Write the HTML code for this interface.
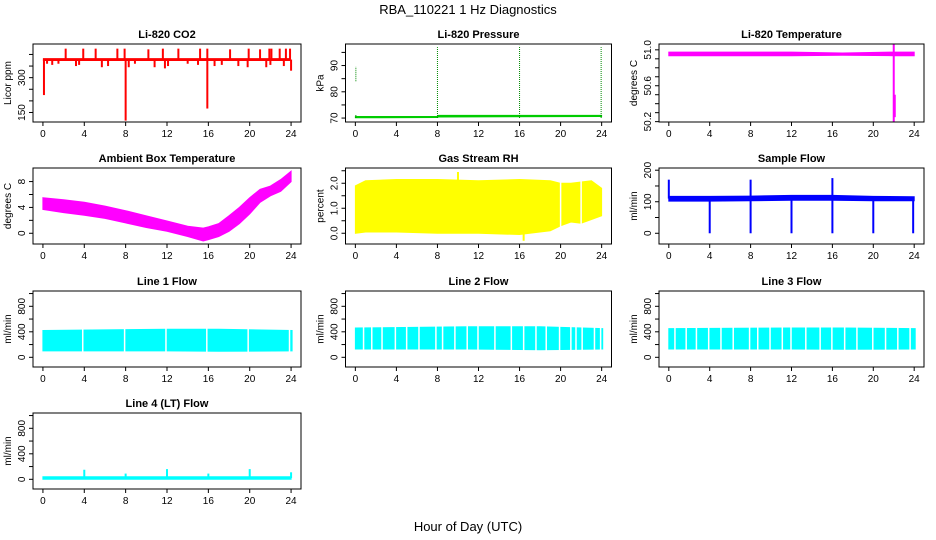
<!DOCTYPE html>
<html><head><meta charset="utf-8"><style>
html,body{margin:0;padding:0;background:#fff}
svg{display:block}
text{font-family:"Liberation Sans",Helvetica,sans-serif}
</style></head><body>
<svg id="chart" width="936" height="540" viewBox="0 0 936 540">
<text x="468" y="14" text-anchor="middle" font-size="13">RBA_110221  1 Hz Diagnostics</text>
<text x="468" y="531" text-anchor="middle" font-size="13">Hour of Day (UTC)</text>
</svg>
<script>
// ---- data ----
const xTicks = [0,4,8,12,16,20,24];
const titles = ["Li-820 CO2","Li-820 Pressure","Li-820 Temperature","Ambient Box Temperature","Gas Stream RH","Sample Flow","Line 1 Flow","Line 2 Flow","Line 3 Flow","Line 4 (LT) Flow"];
const yLabels = ["Licor ppm","kPa","degrees C","degrees C","percent","ml/min","ml/min","ml/min","ml/min","ml/min"];
const colors = ["#ff0000","#00cc00","#ff00ff","#ff00ff","#ffff00","#0000ff","#00ffff","#00ffff","#00ffff","#00ffff"];
const yLims = [[109,445],[68.5,98.2],[50.196,51.065],[-1.66,10.1],[-0.43,2.61],[-34,207],[-152,1040],[-152,1040],[-152,1040],[-152,1040]];
const yTicks = [[150,200,250,300,350,400],[70,75,80,85,90,95],[50.2,50.3,50.4,50.5,50.6,50.7,50.8,50.9,51.0],[0,2,4,6,8],[0,0.5,1,1.5,2,2.5],[0,50,100,150,200],[0,200,400,600,800,1000],[0,200,400,600,800,1000],[0,200,400,600,800,1000],[0,200,400,600,800,1000]];
const yTickLabels = [["150","","","300","",""],["70","","80","","90",""],["50.2","","","","50.6","","","","51.0"],["0","","4","","8"],["0.0","","1.0","","2.0",""],["0","","100","","200"],["0","","400","","800",""],["0","","400","","800",""],["0","","400","","800",""],["0","","400","","800",""]];
// band envelopes: hour, low, high
const bandX = [
 [0.05,23.9],
 [0.0,8,8.1,24],
 [0,12,17,22,22.2,24],
 [0,2,4,6,8,10,12,14,15.5,16,17,18,19,20,21,22,23,24],
 [0,1,4,8,12,16,19,20,21,22,23,24],
 [0,4,8,12,16,20,24],
 [0,12,17,24.1],
 [0,11,18,24.1],
 [0,12,17,24.1],
 [0,24]];
const bandLo = [
 [374,374],[70.1,70.2,70.4,70.6],[50.935,50.935,50.94,50.935,50.935,50.935],
 [3.7,3.2,2.8,2.3,1.6,0.9,0.3,-0.5,-1.2,-1.0,-0.5,0.3,1.5,3,4.8,5.8,6.5,8],
 [0.0,0.05,0.05,0.0,0.0,-0.05,0.1,0.3,0.45,0.4,0.55,0.7],
 [102,102,103,105,105,103,103],
 [100,100,95,100],[130,130,120,130],[130,130,125,130],[0,0]];
const bandHi = [
 [382,382],[70.6,70.6,71.0,71.0],[50.975,50.975,50.965,50.975,50.975,50.975],
 [5.5,5.2,4.8,4.2,3.5,2.7,1.9,1.1,0.8,1.0,1.5,2.7,4,5.5,6.8,7.3,8.3,9.6],
 [1.9,2.1,2.15,2.15,2.1,2.15,2.1,2.0,2.0,2.05,2.1,1.8],
 [117,117,118,120,120,117,116],
 [420,440,440,420],[460,480,480,450],[450,460,460,450],[40,40]];
// white gaps in bands (hour)
const gaps = [[],[],[],[],[20.0,22.0],[],
 [3.85,7.9,11.9,15.85,19.85,23.85],
 [0.8,1.6,2.6,3.9,5.0,6.2,7.85,8.5,9.7,10.9,11.95,13.6,15.2,16.4,17.6,18.6,19.9,21.0,21.5,22.1,23.3,23.9],
 [0.6,1.7,2.7,3.9,5.1,6.3,7.9,8.7,9.9,11.1,11.95,13.4,14.8,15.95,17.2,18.4,19.95,21.2,22.4,23.6],
 []];
// spikes: hour, from value, to value
const spikeX = [
 [2.2,3.9,5.1,7.2,7.9,10.2,11.6,13.1,15.2,15.9,18.1,19.9,21.0,21.9,22.1,22.9,23.5,23.9, 0.1,0.4,0.9,1.5,3.2,3.5,5.7,6.3,8.0,8.3,8.9,10.8,11.8,12.1,14.0,15.0,15.9,16.6,17.3,18.9,19.8,21.6,22.0,23.3,24.0],
 [0.05,0.05,8.0,16.0,23.95],
 [22.0,22.1],
 [],[10.0,16.4],
 [0,8,16,4,8,12,16,20,23.9],
 [],[],[],
 [4,8,12,16,20,24]];
const spikeFrom = [
 [378,378,378,378,378,378,378,378,378,378,378,378,378,378,378,378,378,378, 378,378,378,378,378,378,378,378,378,378,378,378,378,378,378,378,378,378,378,378,378,378,378,378,378],
 [84,70,70,70,70],[50.2,50.5],[],[2.0,0.0],
 [110,110,110,110,110,110,110,110,110],[],[],[],
 [20,20,20,20,20,20]];
const spikeTo = [
 [425,425,425,425,425,422,425,425,425,425,422,425,422,425,425,425,425,425, 225,360,355,360,350,355,345,350,115,345,360,345,340,350,360,355,167,350,355,350,345,345,355,350,330],
 [89.5,71.5,97,97.5,97],[51.06,50.25],[],[2.45,-0.3],
 [170,170,175,0,0,0,0,0,0],[],[],[],
 [150,90,160,90,160,110]];

// ---- layout ----
const colX = [[33,301],[345.5,611.5],[659,924]];
const rowY = [[44,122],[168,244],[291,367],[413,489]];
const NS = "http://www.w3.org/2000/svg";
const svg = document.getElementById('chart');
function mk(tag, attrs, parent){const e=document.createElementNS(NS,tag);for(const k in attrs)e.setAttribute(k,attrs[k]);(parent||svg).appendChild(e);return e;}

titles.forEach((t,i)=>{
  const c = colX[i%3], r = rowY[Math.floor(i/3)];
  const x0=c[0], x1=c[1], y0=r[0], y1=r[1];
  const xs = v => x0 + (v+0.96)/25.92*(x1-x0);
  const yl = yLims[i];
  const ys = v => y1 - (v-yl[0])/(yl[1]-yl[0])*(y1-y0);
  const g = mk('g',{});
  
  
  const clipId='clip'+i;
  const cp=mk('clipPath',{id:clipId},g); mk('rect',{x:x0,y:y0,width:x1-x0,height:y1-y0},cp);
  const plot=mk('g',{'clip-path':'url(#'+clipId+')'},g);
  const bx=bandX[i], lo=bandLo[i], hi=bandHi[i];
  let pts=[];
  for(let k=0;k<bx.length;k++) pts.push(xs(bx[k]).toFixed(1)+','+ys(hi[k]).toFixed(1));
  for(let k=bx.length-1;k>=0;k--) pts.push(xs(bx[k]).toFixed(1)+','+ys(lo[k]).toFixed(1));
  const band=mk('polygon',{points:pts.join(' '),fill:colors[i],stroke:colors[i],'stroke-width':1},plot);
  
  
  gaps[i].forEach(gx=>{
    const gl=mk('line',{x1:xs(gx),x2:xs(gx),y1:y0,y2:y1,stroke:'#fff','stroke-width':1.5},plot);
    
    
  });
  spikeX[i].forEach((sx,k)=>{
    const attrs={x1:xs(sx),x2:xs(sx),y1:ys(spikeFrom[i][k]),y2:ys(spikeTo[i][k]),stroke:colors[i],'stroke-width':(i==1?1:2)};
    if(i==1){attrs.stroke='#008800';attrs['stroke-dasharray']='1,1';}
    const sl=mk('line',attrs,plot);
    
    
  });
  const fr=mk('rect',{x:x0,y:y0,width:x1-x0,height:y1-y0,fill:'none',stroke:'#000','stroke-width':1},g);
  
  
  const tt=mk('text',{x:(x0+x1)/2,y:y0-6,'text-anchor':'middle','font-size':11,'font-weight':'bold'},g);
  tt.textContent=t;
  
  
  mk('line',{x1:xs(0),x2:xs(24),y1:y1,y2:y1,stroke:'#000'},g);
  xTicks.forEach(v=>{
    mk('line',{x1:xs(v),x2:xs(v),y1:y1,y2:y1+4,stroke:'#000'},g);
    const tl=mk('text',{x:xs(v),y:y1+15,'text-anchor':'middle','font-size':10},g);
    tl.textContent=v;
    
    
  });
  yTicks[i].forEach((v,k)=>{
    const yy=ys(v);
    mk('line',{x1:x0-4,x2:x0,y1:yy,y2:yy,stroke:'#000'},g);
    const lab=yTickLabels[i][k];
    if(lab){
      const yt=mk('text',{x:x0-8,y:yy,'text-anchor':'middle','font-size':10,transform:'rotate(-90 '+(x0-8)+' '+yy+')'},g);
      yt.textContent=lab;
      
      
    }
  });
  const yta=yTicks[i];
  mk('line',{x1:x0,x2:x0,y1:ys(yta[0]),y2:ys(yta[yta.length-1]),stroke:'#000'},g);
  const ym=(y0+y1)/2, lx=x0-22;
  const ya=mk('text',{x:lx,y:ym,'text-anchor':'middle','font-size':10,transform:'rotate(-90 '+lx+' '+ym+')'},g);
  ya.textContent=yLabels[i];
  
  
});
</script>
</body></html>
